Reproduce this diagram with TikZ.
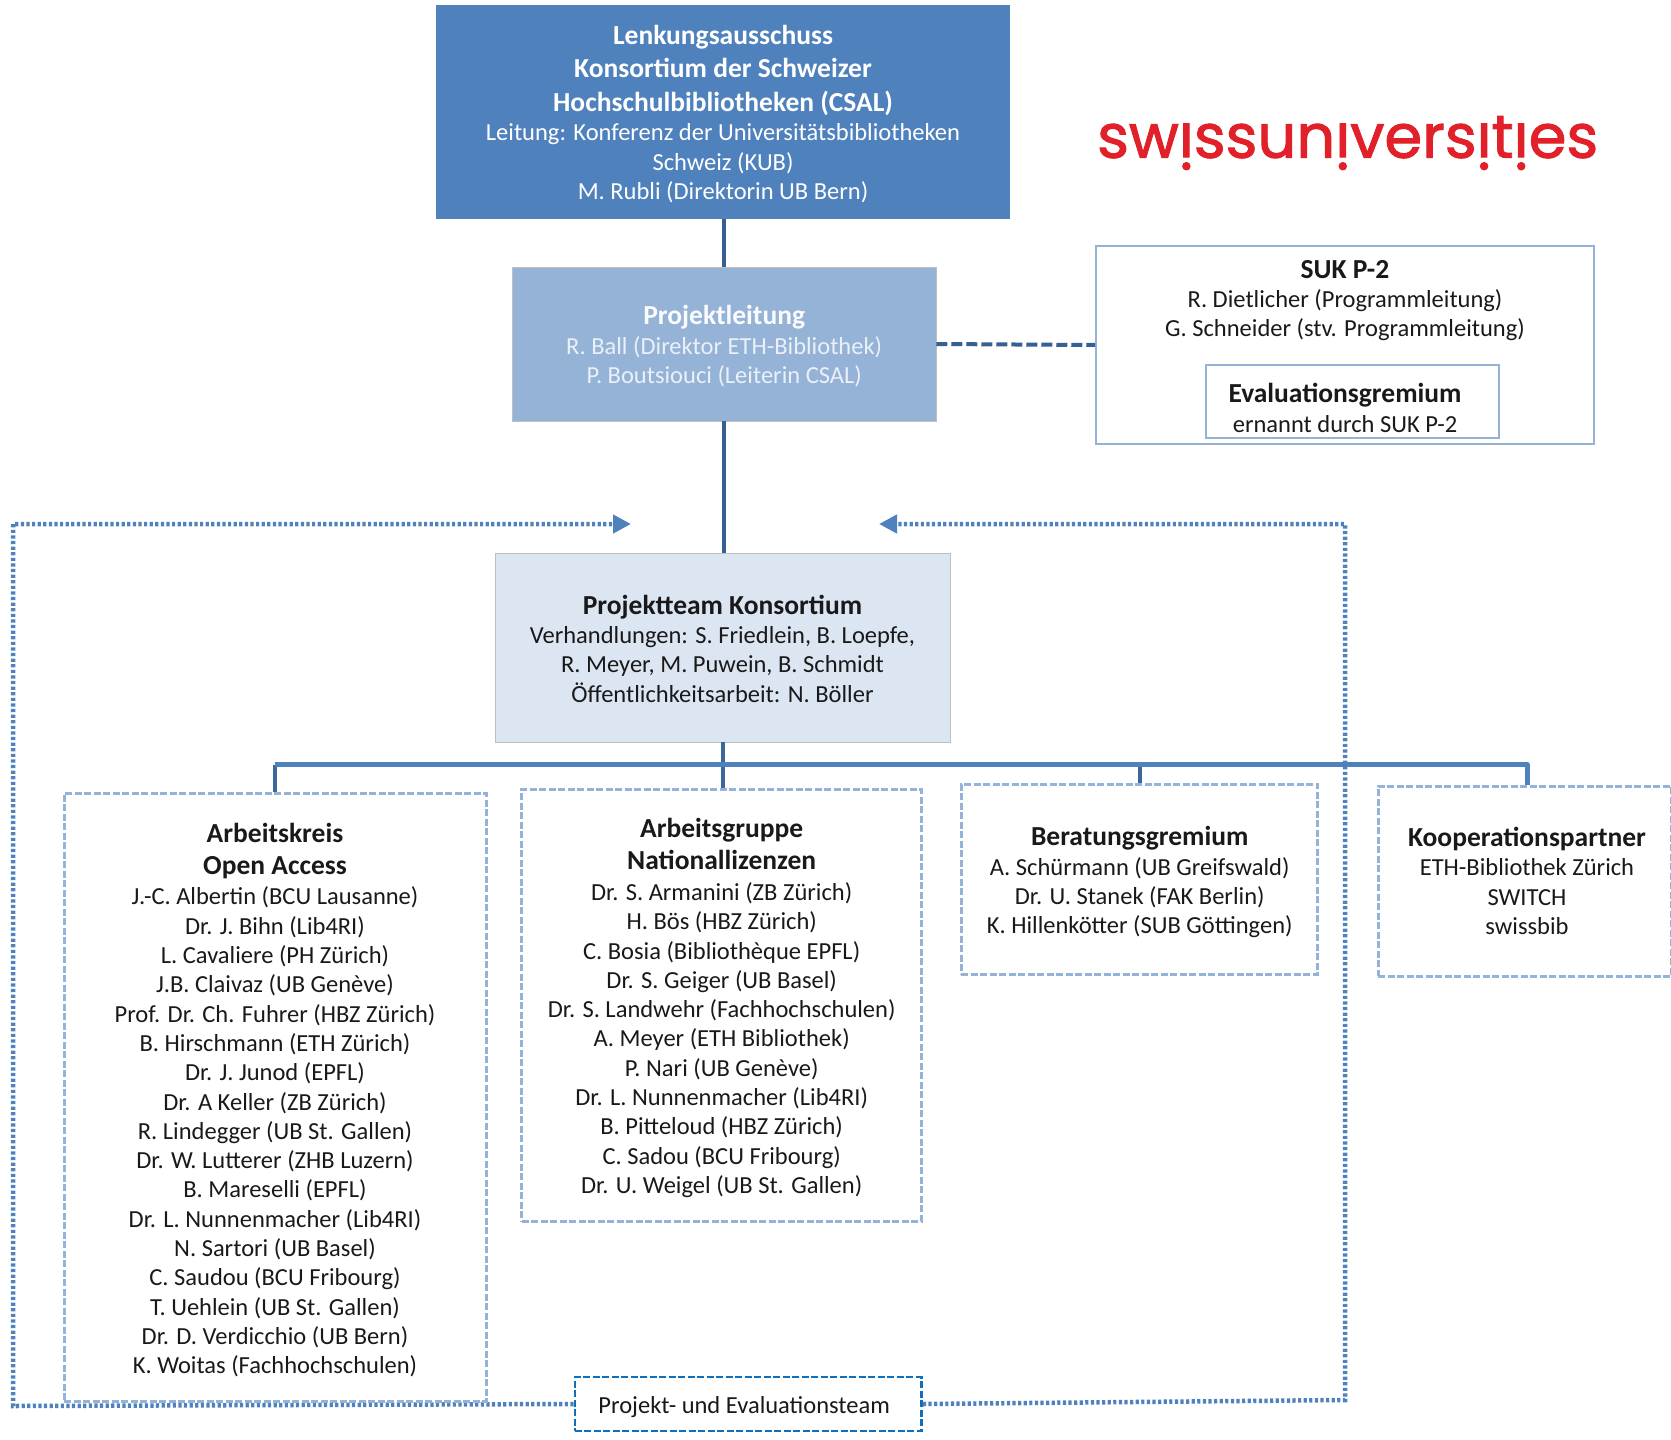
\documentclass[tikz,border=0pt]{standalone}
\usepackage{fontspec}
\setmainfont{Carlito}
\newfontfamily\logofont{Poppins}[FakeBold=1.6]
\usetikzlibrary{arrows.meta}
\definecolor{topblue}{HTML}{4F81BD}
\definecolor{midblue}{HTML}{95B3D7}
\definecolor{paleblue}{HTML}{DCE6F2}
\definecolor{linkblue}{HTML}{376092}
\definecolor{projblue}{HTML}{0F6FBA}
\definecolor{logored}{HTML}{E1202A}
\definecolor{leadtext}{HTML}{EAF0F8}
\newcommand{\flipi}{\raisebox{0.56em}{\scalebox{1}[-1]{i}}}
\newcommand{\hd}[1]{{\fontsize{27.5}{29.3}\selectfont\bfseries #1}}
\newcommand{\dn}[1]{\rule{0pt}{\dimexpr19.5pt+2\dimexpr#1pt\relax\relax}}
\tikzset{
  x=1pt,y=-1pt,
  body/.style={font=\fontsize{24.5}{29.3}\selectfont,align=center,inner sep=0pt,text=black!90},
  topbox/.style={body,fill=topblue,text=white,minimum width=574pt,minimum height=214pt},
  leadbox/.style={body,fill=midblue,draw=black!25,line width=.6pt,text=leadtext,minimum width=423.5pt,minimum height=154pt},
  teambox/.style={body,fill=paleblue,draw=black!25,line width=.6pt,minimum width=455pt,minimum height=189pt},
  framebox/.style={body,draw=midblue,line width=1.7pt},
  dashbox/.style={body,draw=midblue,line width=3pt,dash pattern=on 7pt off 2.5pt},
  projbox/.style={body,draw=projblue,line width=2.8pt,dash pattern=on 7pt off 2.5pt,fill=white},
  solidlink/.style={draw=linkblue,line width=4pt},
  buslink/.style={draw=topblue,line width=5pt,line join=round},
  stub/.style={draw=linkblue!80!topblue,line width=4pt},
  dashlink/.style={draw=linkblue,line width=4pt,dash pattern=on 11pt off 4pt},
  dotlink/.style={draw=topblue,line width=4.5pt,dash pattern=on 3.2pt off 2.4pt},
  dottip/.style={-{Triangle[length=18pt,width=18pt,fill=topblue]}}
}
\begin{document}
\begin{tikzpicture}
\useasboundingbox (0,0) rectangle (1671,1440);
% coordinates
\coordinate (tipL) at (631,524);
\coordinate (tipR) at (879,524);
\coordinate (cornerTL) at (13,524);
\coordinate (cornerBL) at (13,1406);
\coordinate (cornerTR) at (1345,524);
\coordinate (cornerBR) at (1345,1400);
\coordinate (busY) at (0,764.5);
% boxes
\node[projbox,minimum width=346.5pt,minimum height=54pt] (proj) at (748.2,1404) {\rule{0pt}{23.5pt}\hspace*{-8pt}Projekt- und Evaluationsteam};
% dotted feedback lines
\draw[dotlink,dottip] (proj.west) -- (cornerBL) -- (cornerTL) -- (tipL);
\draw[dotlink,dottip] (proj.east) -- (cornerBR) -- (cornerTR) -- (tipR);

\node[topbox] (top) at (723,112) {\dn{2}\hd{Lenkungsausschuss}\\[3pt]\hd{Konsortium der Schweizer}\\[5pt]\hd{Hochschulbibliotheken (CSAL)}\\Leitung: Konferenz der Universitätsbibliotheken\\Schweiz (KUB)\\M. Rubli (Direktorin UB Bern)};
\node[leadbox] (lead) at (724.2,344) {\dn{2}\textcolor{white!95!midblue}{\hd{Projektleitung}}\\R. Ball (Direktor ETH-Bibliothek)\\P. Boutsiouci (Leiterin CSAL)};
\node[teambox] (team) at (722.5,647.5) {\dn{1}\hd{Projektteam Konsortium}\\Verhandlungen: S. Friedlein, B. Loepfe,\\R. Meyer, M. Puwein, B. Schmidt\\Öffentlichkeitsarbeit: N. Böller};

\node[framebox,minimum width=498pt,minimum height=198pt] (suk) at (1345,345) {};
\node[framebox,minimum width=293pt,minimum height=73pt] (eval) at (1352.5,401.5) {};
\node[body] (suktext) at (1345,300.5) {\hd{SUK P-2}\\R. Dietlicher (Programmleitung)\\G. Schneider (stv. Programmleitung)};
\node[body] (evaltext) at (1345,408) {\hd{Evaluationsgremium}\\ernannt durch SUK P-2};

\node[dashbox,minimum width=422pt,minimum height=608pt] (kreis) at (275,1097) {\dn{3}\hd{Arbeitskreis}\\[3pt]\hd{Open Access}\\[1pt]J.-C. Albertin (BCU Lausanne)\\Dr. J. Bihn (Lib4RI)\\L. Cavaliere (PH Zürich)\\J.B. Claivaz (UB Genève)\\Prof. Dr. Ch. Fuhrer (HBZ Zürich)\\B. Hirschmann (ETH Zürich)\\Dr. J. Junod (EPFL)\\Dr. A Keller (ZB Zürich)\\R. Lindegger (UB St. Gallen)\\Dr. W. Lutterer (ZHB Luzern)\\B. Mareselli (EPFL)\\Dr. L. Nunnenmacher (Lib4RI)\\N. Sartori (UB Basel)\\C. Saudou (BCU Fribourg)\\T. Uehlein (UB St. Gallen)\\Dr. D. Verdicchio (UB Bern)\\K. Woitas (Fachhochschulen)};
\node[dashbox,minimum width=399.5pt,minimum height=432pt] (gruppe) at (721.7,1005) {\dn{3}\hd{Arbeitsgruppe}\\[2pt]\hd{Nationallizenzen}\\[2pt]Dr. S. Armanini (ZB Zürich)\\H. Bös (HBZ Zürich)\\C. Bosia (Bibliothèque EPFL)\\Dr. S. Geiger (UB Basel)\\Dr. S. Landwehr (Fachhochschulen)\\A. Meyer (ETH Bibliothek)\\P. Nari (UB Genève)\\Dr. L. Nunnenmacher (Lib4RI)\\B. Pitteloud (HBZ Zürich)\\C. Sadou (BCU Fribourg)\\Dr. U. Weigel (UB St. Gallen)};
\node[dashbox,minimum width=356.5pt,minimum height=190pt] (rat) at (1139.7,879) {\dn{3}\hd{Beratungsgremium}\\A. Schürmann (UB Greifswald)\\Dr. U. Stanek (FAK Berlin)\\K. Hillenkötter (SUB Göttingen)};
\node[dashbox,minimum width=293pt,minimum height=190pt] (koop) at (1524.5,881) {\hspace*{5pt}\hd{Kooperationspartner}\\\hspace*{5pt}ETH-Bibliothek Zürich\\\hspace*{5pt}SWITCH\\\hspace*{5pt}swissbib};

% logo
\node[inner sep=0pt,text=logored,anchor=west] (logo) at (1097,143) {\resizebox{501pt}{!}{\logofont\fontsize{58}{58}\selectfont sw\flipi ssun\flipi vers\flipi t\flipi es}};

% connectors
\draw[solidlink] (top.south -| lead.north) -- (lead.north);
\draw[solidlink] (lead.south) -- (team.north -| lead.south);
\draw[dashlink] (lead.east) -- (suk.west);
\draw[stub] (team.south) -- (team.south |- gruppe.north);
\draw[stub] (kreis.north) -- (kreis.north |- busY);
\draw[stub] (rat.north) -- (rat.north |- busY);
\draw[buslink] (kreis.north |- busY) -- ([xshift=2.5pt]koop.north |- busY) -- ([xshift=2.5pt]koop.north);
\end{tikzpicture}
\end{document}
